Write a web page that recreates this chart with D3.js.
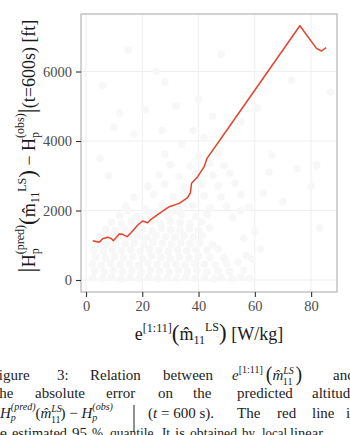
<!DOCTYPE html>
<meta charset="utf-8">
<script src="https://d3js.org/d3.v7.min.js"></script>
<style>
  body { margin: 0; background: #fff; }
</style>
<div id="chart"></div>
<script>
// ticks
var xTicks = [0, 20, 40, 60, 80];
var yTicks = [0, 2000, 4000, 6000];

// 95% quantile curve
var lineX = [2.4, 4.7, 5.9, 7.7, 8.9, 9.7, 11.8, 13, 14.6, 16, 18.4, 20.1, 21.9, 23.1, 26.6, 29.6, 33.1, 36.1, 37.1, 37.5, 39.7, 42, 43, 47.6, 76, 81.9, 83.7, 85.3];
var lineY = [1131, 1085, 1190, 1228, 1199, 1131, 1324, 1314, 1247, 1362, 1583, 1698, 1650, 1746, 1948, 2110, 2206, 2370, 2513, 2783, 2973, 3261, 3501, 4029, 7318, 6667, 6590, 6685];

// observations: error e[1:11] vs absolute altitude error (very faint in the picture)
var obs = [
  [2.5,60],[5.8,40],[9.1,80],[12.4,30],[15.7,70],[19,45],[22.3,90],[25.6,35],[28.9,65],[32.2,50],[35.5,85],[38.8,40],[42,60],[45.5,30],[48,70],[52,40],[55,80],[58,50],
  [3.1,260],[6.4,230],[9.7,280],[13,240],[16.3,270],[19.6,220],[22.9,290],[26.2,250],[29.5,230],[32.8,270],[36.1,240],[39.4,280],[43,230],[47,260],[51,240],[56,280],
  [2.2,460],[5.5,430],[8.8,480],[12.1,440],[15.4,470],[18.7,420],[22,490],[25.3,450],[28.6,430],[31.9,470],[35.2,440],[38.5,480],[42,450],[46,430],[50,470],[54,520],
  [3.5,660],[6.8,630],[10.1,680],[13.4,640],[16.7,670],[20,620],[23.3,690],[26.6,650],[29.9,630],[33.2,670],[36.5,640],[40,680],[44,650],[49,630],[57,700],
  [2.8,860],[6.1,830],[9.4,880],[12.7,840],[16,870],[19.3,820],[22.6,890],[25.9,850],[29.2,830],[32.5,870],[35.8,840],[39.1,880],[43,860],[47,900],
  [4,1060],[7.3,1030],[10.6,1080],[13.9,1040],[17.2,1070],[20.5,1020],[23.8,1090],[27.1,1050],[30.4,1030],[33.7,1070],[37,1040],[40.5,1080],[45,1010],
  [5.2,1260],[8.5,1230],[11.8,1280],[15.1,1240],[18.4,1270],[21.7,1220],[25,1290],[28.3,1250],[31.6,1230],[34.9,1270],[38.2,1240],[41.5,1290],
  [7,1460],[10.3,1430],[13.6,1480],[16.9,1440],[20.2,1470],[23.5,1420],[26.8,1490],[30.1,1450],[33.4,1430],[36.7,1470],[40,1440],[44,1500],
  [9,1660],[12.5,1630],[16,1680],[19.5,1640],[23,1670],[26.5,1620],[30,1690],[33.5,1650],[37,1630],[41,1670],
  [12,1860],[18,1830],[24,1880],[29,1840],[34,1870],[39,1820],[43,1890],[15,2000],[21,1980],[27,2010],[32,1990],
  [14,2120],[21,2060],[27,2150],[33,2090],[38,2140],[44,2070],[50,2120],
  [17,2380],[24,2450],[31,2400],[36,2480],[42,2420],[48,2390],[55,2450],
  [22,2700],[28,2760],[35,2680],[41,2740],[47,2710],[53,2780],
  [26,3020],[33,2980],[39,3060],[45,3010],[51,3080],
  [30,3320],[37,3280],[44,3350],[49,3300],
  [28,3620],[40,3580],[47,3650],
  [34,3900],[42,4100],[17,4200],[38,4300],[12,4800],[21,4900],[32,5000],[28,5700],[15,6600],[48,6500],
  [61,4950],[73,5750],[87,5400],[75,3200],[80,2700],[65,3100],[63,2500],[58,2100],[55,2000],[52,1800],
  [60,1400],[56,1200],[62,900],[59,600],[66,3600],[82,3300],[83,1500],[25,6000],[40,5200],[6,5600],
  [10,4400],[45,4700],[27,4300],[55,4550],[8,3000],[5,3500],[70,2250]
];

var W = 350, H = 435;
var serif = "Liberation Serif";
var margin = {top: 14, left: 81, right: 13, bottom: 143};
var width = W - margin.left - margin.right,
    height = H - margin.top - margin.bottom;

var svg = d3.select("#chart").append("svg")
    .attr("width", W)
    .attr("height", H)
    .style("font-family", serif);

var g = svg.append("g")
    .attr("transform", "translate(" + margin.left + "," + margin.top + ")");

var x = d3.scaleLinear().domain([-1.78, 89.2]).range([0, width]);
var y = d3.scaleLinear().domain([-345, 7655]).range([height, 0]);

// grid
g.selectAll(".vgrid").data(xTicks).enter().append("line")
    .attr("x1", d => x(d)).attr("x2", d => x(d))
    .attr("y1", 0).attr("y2", height)
    .attr("stroke", "#efefef").attr("stroke-width", 1);
g.selectAll(".hgrid").data(yTicks).enter().append("line")
    .attr("y1", d => y(d)).attr("y2", d => y(d))
    .attr("x1", 0).attr("x2", width)
    .attr("stroke", "#efefef").attr("stroke-width", 1);

// points
g.selectAll("circle").data(obs).enter().append("circle")
    .attr("cx", d => x(d[0]))
    .attr("cy", d => y(d[1]))
    .attr("r", 3.8)
    .attr("fill", "#f7f7f7");

// quantile line
var pts = lineX.map((v, i) => [v, lineY[i]]);
g.append("path")
    .datum(pts)
    .attr("fill", "none")
    .attr("stroke", "#e4432d")
    .attr("stroke-width", 1.5)
    .attr("stroke-linejoin", "round")
    .attr("d", d3.line().x(d => x(d[0])).y(d => y(d[1])));

// panel border
g.append("rect")
    .attr("width", width).attr("height", height)
    .attr("fill", "none").attr("stroke", "#b5b5b5").attr("stroke-width", 1.2);

// axes
var xAxis = g.append("g")
    .attr("transform", "translate(0," + height + ")")
    .call(d3.axisBottom(x).tickValues(xTicks).tickSize(5).tickPadding(4).tickFormat(d3.format("d")));
var yAxis = g.append("g")
    .call(d3.axisLeft(y).tickValues(yTicks).tickSize(5).tickPadding(4).tickFormat(d3.format("d")));
[xAxis, yAxis].forEach(function(a) {
  a.attr("font-family", null).attr("font-size", null);
  a.select(".domain").remove();
  a.selectAll("line").attr("stroke", "#333").attr("stroke-width", 1.1);
  a.selectAll("text").attr("fill", "#4d4d4d")
    .style("font-family", serif).style("font-size", "14.5px");
});

// x label
var xl = svg.append("text")
    .attr("x", 209).attr("y", 340)
    .attr("text-anchor", "middle")
    .attr("fill", "#1a1a1a")
    .attr("font-size", 18);
xl.append("tspan").text("e");
xl.append("tspan").attr("dy", -8).attr("font-size", 12).text("[1:11]");
xl.append("tspan").attr("dy", 9).attr("font-size", 23).text("(");
xl.append("tspan").attr("dy", -1).text("m\u0302");
xl.append("tspan").attr("dy", 4).attr("font-size", 12).text("11");
xl.append("tspan").attr("dy", -13).attr("font-size", 12).text("LS");
xl.append("tspan").attr("dy", 9).attr("font-size", 23).text(")");
xl.append("tspan").text(" [W/kg]");

// y label
var yl = svg.append("text")
    .attr("transform", "translate(35,146) rotate(-90)")
    .attr("text-anchor", "middle")
    .attr("fill", "#1a1a1a")
    .attr("font-size", 18);
yl.append("tspan").attr("font-size", 25).text("|");
yl.append("tspan").text("H");
yl.append("tspan").attr("dy", 4).attr("font-size", 12).text("p");
yl.append("tspan").attr("dx", -6).attr("dy", -15).attr("font-size", 12).text("(pred)");
yl.append("tspan").attr("dy", 11).attr("font-size", 23).text("(");
yl.append("tspan").text("m\u0302");
yl.append("tspan").attr("dy", 4).attr("font-size", 12).text("11");
yl.append("tspan").attr("dy", -13).attr("font-size", 12).text("LS");
yl.append("tspan").attr("dy", 9).attr("font-size", 23).text(")");
yl.append("tspan").text(" \u2212 H");
yl.append("tspan").attr("dy", 4).attr("font-size", 12).text("p");
yl.append("tspan").attr("dx", -6).attr("dy", -15).attr("font-size", 12).text("(obs)");
yl.append("tspan").attr("dy", 11).attr("font-size", 25).text("|");
yl.append("tspan").text("(t=600s) [ft]");

// caption (justified, cut at both edges)
var cap = svg.append("g").attr("fill", "#222").attr("font-size", 15);
function word(xp, yp, s, len) {
  var t = cap.append("text").attr("x", xp).attr("y", yp).text(s);
  if (len) t.attr("textLength", len).attr("lengthAdjust", "spacingAndGlyphs");
  return t;
}
word(-9.5, 380, "Figure");
word(57, 380, "3:");
word(90, 380, "Relation");
word(163, 380, "between");
var m1 = cap.append("text").attr("x", 232).attr("y", 380);
m1.append("tspan").attr("font-style", "italic").text("e");
m1.append("tspan").attr("dy", -7).attr("font-size", 10).text("[1:11]");
m1.append("tspan").attr("dy", 8).attr("font-size", 20).attr("dx", 3).text("(");
m1.append("tspan").attr("dy", -1).attr("font-style", "italic").text("m\u0302");
m1.append("tspan").attr("dy", -6).attr("font-size", 10).attr("font-style", "italic").text("LS");
m1.append("tspan").attr("dx", -11).attr("dy", 11).attr("font-size", 10).text("11");
m1.append("tspan").attr("dy", -4).attr("dx", 3).attr("font-size", 20).text(")");
word(333, 380, "and");

word(-5, 398, "the");
word(35, 398, "absolute");
word(106, 398, "error");
word(158, 398, "on");
word(193, 398, "the");
word(237, 398, "predicted");
word(312, 398, "altitude");

var m2 = cap.append("text").attr("x", 0).attr("y", 417.5);
m2.append("tspan").attr("font-style", "italic").text("H");
m2.append("tspan").attr("dy", 3).attr("font-size", 10).attr("font-style", "italic").text("p");
m2.append("tspan").attr("dx", -5).attr("dy", -11).attr("font-size", 10).attr("font-style", "italic").text("(pred)");
m2.append("tspan").attr("dy", 8).text("(");
m2.append("tspan").attr("font-style", "italic").text("m\u0302");
m2.append("tspan").attr("dy", -6).attr("font-size", 10).attr("font-style", "italic").text("LS");
m2.append("tspan").attr("dx", -11).attr("dy", 11).attr("font-size", 10).text("11");
m2.append("tspan").attr("dy", -5).text(") \u2212 ");
m2.append("tspan").attr("font-style", "italic").text("H");
m2.append("tspan").attr("dy", 3).attr("font-size", 10).attr("font-style", "italic").text("p");
m2.append("tspan").attr("dx", -5).attr("dy", -11).attr("font-size", 10).attr("font-style", "italic").text("(obs)");
cap.append("line").attr("x1", 134).attr("x2", 134).attr("y1", 405).attr("y2", 432)
    .attr("stroke", "#222").attr("stroke-width", 1);
var m3 = cap.append("text").attr("x", 148).attr("y", 417.5);
m3.append("tspan").text("(");
m3.append("tspan").attr("font-style", "italic").text("t");
m3.append("tspan").text(" = 600 s).");
word(237, 417.5, "The");
word(277, 417.5, "red");
word(312, 417.5, "line");
word(346, 417.5, "is");

word(-13, 438, "the", 20);
word(12, 438, "estimated", 55);
word(72, 438, "95", 15);
word(92, 438, "%", 11);
word(110, 438, "quantile.", 47);
word(162, 438, "It", 8);
word(175, 438, "is", 10);
word(190, 438, "obtained", 47);
word(242, 438, "by", 13);
word(262, 438, "local", 25);
word(290, 438, "linear", 33);
</script>
